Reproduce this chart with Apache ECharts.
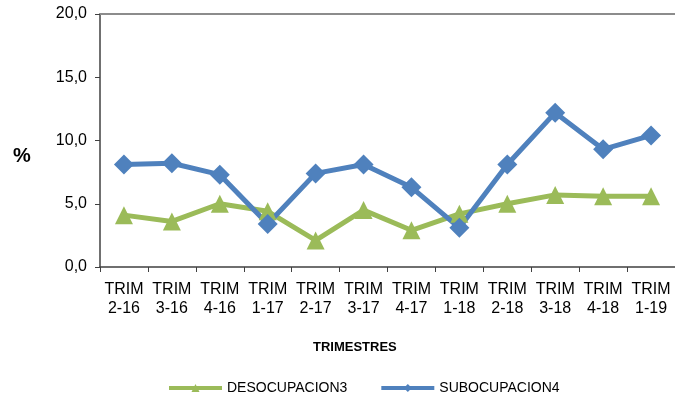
<!DOCTYPE html>
<html><head><meta charset="utf-8">
<script src="https://cdn.jsdelivr.net/npm/echarts@6/dist/echarts.min.js"></script>
<style>html,body{margin:0;padding:0;background:#fff}#c{width:675px;height:400px}</style>
</head><body><div id="c"></div>
<script>
var categories = ['TRIM\n2-16','TRIM\n3-16','TRIM\n4-16','TRIM\n1-17','TRIM\n2-17','TRIM\n3-17','TRIM\n4-17','TRIM\n1-18','TRIM\n2-18','TRIM\n3-18','TRIM\n4-18','TRIM\n1-19'];
var desocupacion = [4.1, 3.6, 5.0, 4.4, 2.1, 4.5, 2.9, 4.2, 5.0, 5.7, 5.6, 5.6];
var subocupacion = [8.1, 8.2, 7.3, 3.4, 7.4, 8.1, 6.3, 3.1, 8.1, 12.2, 9.3, 10.4];
var yTicks = [0, 5, 10, 15, 20];

var chart = echarts.init(document.getElementById('c'));
var font = 'Liberation Sans, Arial, sans-serif';
chart.setOption({
  animation: false,
  textStyle: {fontFamily: font},
  grid: {left: 100, right: 0, top: 14, bottom: 133},
  legend: {
    bottom: 0, left: 162, itemWidth: 53, itemHeight: 10, itemGap: 32,
    lineStyle: {width: 4},
    textStyle: {fontFamily: font, fontSize: 14, color: '#000'},
    data: ['DESOCUPACION3', 'SUBOCUPACION4']
  },
  graphic: [
    {type: 'text', left: 13, top: 146, style: {text: '%', font: 'bold 20px ' + font, fill: '#000'}},
    {type: 'text', left: 313, top: 341, style: {text: 'TRIMESTRES', font: 'bold 13px ' + font, fill: '#000'}}
  ],
  xAxis: [{
    type: 'category', data: categories, boundaryGap: true,
    axisLine: {lineStyle: {color: '#404040', width: 1.5}},
    axisTick: {show: true, inside: false, length: 5, alignWithLabel: false, lineStyle: {color: '#404040'}},
    axisLabel: {fontFamily: font, fontSize: 16, color: '#000', lineHeight: 19, margin: 13, interval: 0}
  }, {
    type: 'category', data: categories, position: 'top',
    axisLine: {show: true, lineStyle: {color: '#8c8c8c', width: 2}},
    axisTick: {show: false}, axisLabel: {show: false}
  }],
  yAxis: {
    type: 'value', min: yTicks[0], max: yTicks[yTicks.length - 1], interval: 5,
    axisLine: {show: true, lineStyle: {color: '#404040', width: 1.5}},
    axisTick: {show: true, length: 5, lineStyle: {color: '#404040'}},
    splitLine: {show: false},
    axisLabel: {fontFamily: font, fontSize: 16, color: '#000', margin: 13,
      formatter: function (v) { return v.toFixed(1).replace('.', ','); }}
  },
  series: [{
    name: 'DESOCUPACION3', type: 'line', data: desocupacion,
    symbol: 'triangle', symbolSize: 18,
    lineStyle: {color: '#9BBB59', width: 5},
    itemStyle: {color: '#9BBB59'}
  }, {
    name: 'SUBOCUPACION4', type: 'line', data: subocupacion,
    symbol: 'diamond', symbolSize: 20,
    lineStyle: {color: '#4F81BD', width: 5},
    itemStyle: {color: '#4F81BD'}
  }]
});
</script></body></html>
